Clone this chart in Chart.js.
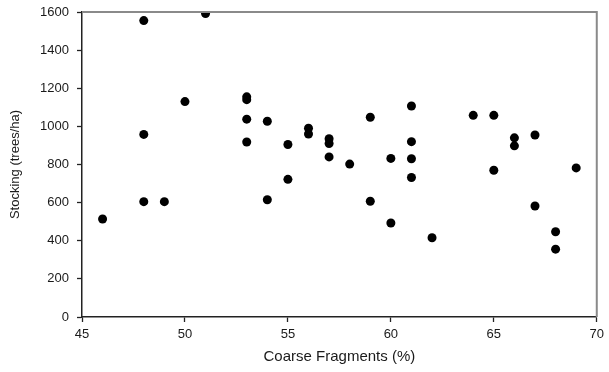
<!DOCTYPE html>
<html>
<head>
<meta charset="utf-8">
<script src="https://cdn.jsdelivr.net/npm/chart.js@4/dist/chart.umd.min.js"></script>
<style>
html,body{margin:0;padding:0;background:#fff;}
#wrap{width:609px;height:372px;position:relative;}
</style>
</head>
<body>
<div id="wrap"><canvas id="c" width="609" height="372"></canvas></div>
<script>
// Coarse fragments (%) for each plot
const coarseFragments = [46, 48, 48, 48, 49, 50, 51, 53, 53, 53, 53, 54, 54, 55, 55, 56, 56, 57, 57, 57, 58, 59, 59, 60, 60, 61, 61, 61, 61, 62, 64, 65, 65, 66, 66, 67, 67, 68, 68, 69];
// Stocking (trees/ha) for each plot
const stocking = [514, 1555, 958, 605, 605, 1130, 1592, 1155, 1140, 1038, 918, 1027, 615, 905, 722, 990, 960, 935, 910, 840, 802, 1048, 607, 832, 493, 1107, 920, 830, 732, 416, 1058, 1058, 770, 940, 898, 955, 582, 447, 356, 782];
const xTicks = [45, 50, 55, 60, 65, 70];
const yTicks = [0, 200, 400, 600, 800, 1000, 1200, 1400, 1600];
const xTitle = 'Coarse Fragments (%)';
const yTitle = 'Stocking (trees/ha)';

const points = coarseFragments.map((x, i) => ({x: x, y: stocking[i]}));

const frame = {
  id: 'frame',
  afterDatasetsDraw(chart) {
    const {ctx, chartArea: a} = chart;
    ctx.save();
    ctx.strokeStyle = '#8a8a8a';
    ctx.lineWidth = 2;
    ctx.beginPath();
    ctx.moveTo(a.left, a.top);
    ctx.lineTo(a.right, a.top);
    ctx.lineTo(a.right, a.bottom);
    ctx.stroke();
    ctx.restore();
  }
};

new Chart(document.getElementById('c'), {
  type: 'scatter',
  data: {
    datasets: [{
      data: points,
      backgroundColor: '#000',
      borderColor: '#000',
      pointRadius: 4.5,
      pointHoverRadius: 4.5,
      borderWidth: 0
    }]
  },
  options: {
    responsive: false,
    animation: false,
    events: [],
    layout: {padding: {left: 0, top: 12, right: 12, bottom: 0}},
    plugins: {legend: {display: false}, tooltip: {enabled: false}},
    scales: {
      x: {
        type: 'linear',
        min: 45, max: 70,
        afterBuildTicks: s => { s.ticks = xTicks.map(v => ({value: v})); },
        afterFit: s => { s.height = 55; },
        ticks: {color: '#1a1a1a', font: {family: 'Liberation Sans, Arial', size: 13}, padding: 5, maxRotation: 0, callback: v => String(v)},
        grid: {drawOnChartArea: false, tickLength: 5, tickColor: '#222', tickWidth: 1.3},
        border: {color: '#222', width: 1.5},
        title: {display: true, text: xTitle, color: '#1a1a1a', font: {family: 'Liberation Sans, Arial', size: 15}, padding: {top: 0, bottom: 6}}
      },
      y: {
        type: 'linear',
        min: 0, max: 1600,
        afterBuildTicks: s => { s.ticks = yTicks.map(v => ({value: v})); },
        afterFit: s => { s.width = 82; s.paddingTop = 0; s.paddingBottom = 0; },
        ticks: {color: '#1a1a1a', font: {family: 'Liberation Sans, Arial', size: 13}, padding: 8, callback: v => String(v)},
        grid: {drawOnChartArea: false, tickLength: 5, tickColor: '#222', tickWidth: 1.3},
        border: {color: '#222', width: 1.5},
        title: {display: true, text: yTitle, color: '#1a1a1a', font: {family: 'Liberation Sans, Arial', size: 13}, padding: {top: 8, bottom: 0}}
      }
    }
  },
  plugins: [frame]
});
</script>
</body>
</html>
